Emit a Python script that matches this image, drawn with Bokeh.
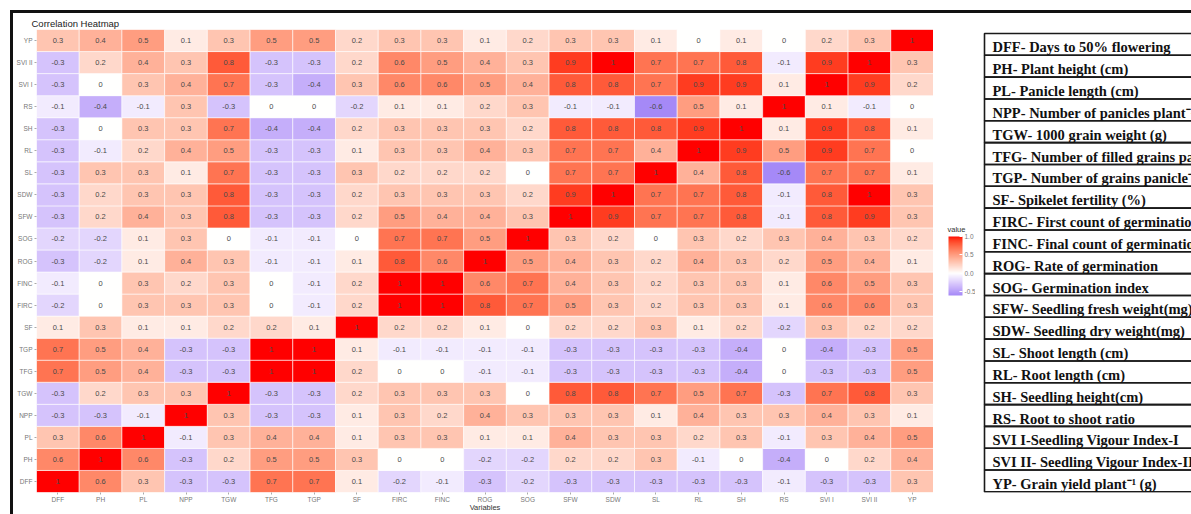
from bokeh.plotting import figure
from bokeh.models import (ColumnDataSource, LinearColorMapper, ColorBar, FixedTicker,
                          Range1d, FactorRange, PrintfTickFormatter)
from bokeh.layouts import row
from bokeh.core.properties import value
from bokeh.embed import file_html
from bokeh.resources import INLINE

# ---- data -------------------------------------------------------------
variables = ["DFF", "PH", "PL", "NPP", "TGW", "TFG", "TGP", "SF", "FIRC", "FINC",
             "ROG", "SOG", "SFW", "SDW", "SL", "RL", "SH", "RS", "SVI I", "SVI II", "YP"]

# correlation of each trait (row) with every trait in `variables` order
r_dff = [1, 0.6, 0.3, -0.3, -0.3, 0.7, 0.7, 0.1, -0.2, -0.1, -0.3, -0.2, -0.3, -0.3, -0.3, -0.3, -0.3, -0.1, -0.3, -0.3, 0.3]
r_ph = [0.6, 1, 0.6, -0.3, 0.2, 0.5, 0.5, 0.3, 0, 0, -0.2, -0.2, 0.2, 0.2, 0.3, -0.1, 0, -0.4, 0, 0.2, 0.4]
r_pl = [0.3, 0.6, 1, -0.1, 0.3, 0.4, 0.4, 0.1, 0.3, 0.3, 0.1, 0.1, 0.4, 0.3, 0.3, 0.2, 0.3, -0.1, 0.3, 0.4, 0.5]
r_npp = [-0.3, -0.3, -0.1, 1, 0.3, -0.3, -0.3, 0.1, 0.3, 0.2, 0.4, 0.3, 0.3, 0.3, 0.1, 0.4, 0.3, 0.3, 0.4, 0.3, 0.1]
r_tgw = [-0.3, 0.2, 0.3, 0.3, 1, -0.3, -0.3, 0.2, 0.3, 0.3, 0.3, 0, 0.8, 0.8, 0.7, 0.5, 0.7, -0.3, 0.7, 0.8, 0.3]
r_tfg = [0.7, 0.5, 0.4, -0.3, -0.3, 1, 1, 0.2, 0, 0, -0.1, -0.1, -0.3, -0.3, -0.3, -0.3, -0.4, 0, -0.3, -0.3, 0.5]
r_tgp = [0.7, 0.5, 0.4, -0.3, -0.3, 1, 1, 0.1, -0.1, -0.1, -0.1, -0.1, -0.3, -0.3, -0.3, -0.3, -0.4, 0, -0.4, -0.3, 0.5]
r_sf = [0.1, 0.3, 0.1, 0.1, 0.2, 0.2, 0.1, 1, 0.2, 0.2, 0.1, 0, 0.2, 0.2, 0.3, 0.1, 0.2, -0.2, 0.3, 0.2, 0.2]
r_firc = [-0.2, 0, 0.3, 0.3, 0.3, 0, -0.1, 0.2, 1, 1, 0.8, 0.7, 0.5, 0.3, 0.2, 0.3, 0.3, 0.1, 0.6, 0.6, 0.3]
r_finc = [-0.1, 0, 0.3, 0.2, 0.3, 0, -0.1, 0.2, 1, 1, 0.6, 0.7, 0.4, 0.3, 0.2, 0.3, 0.3, 0.1, 0.6, 0.5, 0.3]
r_rog = [-0.3, -0.2, 0.1, 0.4, 0.3, -0.1, -0.1, 0.1, 0.8, 0.6, 1, 0.5, 0.4, 0.3, 0.2, 0.4, 0.3, 0.2, 0.5, 0.4, 0.1]
r_sog = [-0.2, -0.2, 0.1, 0.3, 0, -0.1, -0.1, 0, 0.7, 0.7, 0.5, 1, 0.3, 0.2, 0, 0.3, 0.2, 0.3, 0.4, 0.3, 0.2]
r_sfw = [-0.3, 0.2, 0.4, 0.3, 0.8, -0.3, -0.3, 0.2, 0.5, 0.4, 0.4, 0.3, 1, 0.9, 0.7, 0.7, 0.8, -0.1, 0.8, 0.9, 0.3]
r_sdw = [-0.3, 0.2, 0.3, 0.3, 0.8, -0.3, -0.3, 0.2, 0.3, 0.3, 0.3, 0.2, 0.9, 1, 0.7, 0.7, 0.8, -0.1, 0.8, 1, 0.3]
r_sl = [-0.3, 0.3, 0.3, 0.1, 0.7, -0.3, -0.3, 0.3, 0.2, 0.2, 0.2, 0, 0.7, 0.7, 1, 0.4, 0.8, -0.6, 0.7, 0.7, 0.1]
r_rl = [-0.3, -0.1, 0.2, 0.4, 0.5, -0.3, -0.3, 0.1, 0.3, 0.3, 0.4, 0.3, 0.7, 0.7, 0.4, 1, 0.9, 0.5, 0.9, 0.7, 0]
r_sh = [-0.3, 0, 0.3, 0.3, 0.7, -0.4, -0.4, 0.2, 0.3, 0.3, 0.3, 0.2, 0.8, 0.8, 0.8, 0.9, 1, 0.1, 0.9, 0.8, 0.1]
r_rs = [-0.1, -0.4, -0.1, 0.3, -0.3, 0, 0, -0.2, 0.1, 0.1, 0.2, 0.3, -0.1, -0.1, -0.6, 0.5, 0.1, 1, 0.1, -0.1, 0]
r_svi1 = [-0.3, 0, 0.3, 0.4, 0.7, -0.3, -0.4, 0.3, 0.6, 0.6, 0.5, 0.4, 0.8, 0.8, 0.7, 0.9, 0.9, 0.1, 1, 0.9, 0.2]
r_svi2 = [-0.3, 0.2, 0.4, 0.3, 0.8, -0.3, -0.3, 0.2, 0.6, 0.5, 0.4, 0.3, 0.9, 1, 0.7, 0.7, 0.8, -0.1, 0.9, 1, 0.3]
r_yp = [0.3, 0.4, 0.5, 0.1, 0.3, 0.5, 0.5, 0.2, 0.3, 0.3, 0.1, 0.2, 0.3, 0.3, 0.1, 0, 0.1, 0, 0.2, 0.3, 1]

legend_ticks = [-0.5, 0.0, 0.5, 1.0]

descriptions = [
    "DFF- Days to 50% flowering",
    "PH- Plant height (cm)",
    "PL- Panicle length (cm)",
    "NPP- Number of panicles plant\u207b\u00b9",
    "TGW- 1000 grain weight (g)",
    "TFG- Number of filled  grains panicle\u207b\u00b9",
    "TGP- Number of grains panicle\u207b\u00b9",
    "SF- Spikelet fertility (%)",
    "FIRC- First count of germination",
    "FINC- Final count of germination",
    "ROG- Rate  of germination",
    "SOG- Germination index",
    "SFW- Seedling fresh weight(mg)",
    "SDW- Seedling dry weight(mg)",
    "SL- Shoot length (cm)",
    "RL- Root length (cm)",
    "SH- Seedling height(cm)",
    "RS- Root to shoot ratio",
    "SVI I-Seedling Vigour Index-I",
    "SVI II- Seedling Vigour Index-II",
    "YP- Grain yield plant\u207b\u00b9 (g)",
]

matrix_rows = [r_dff, r_ph, r_pl, r_npp, r_tgw, r_tfg, r_tgp, r_sf, r_firc, r_finc,
               r_rog, r_sog, r_sfw, r_sdw, r_sl, r_rl, r_sh, r_rs, r_svi1, r_svi2, r_yp]
assert len(matrix_rows) == len(variables)
assert all(len(r) == len(variables) for r in matrix_rows)


# ---- diverging palette (white midpoint, Lab interpolation) -------------
def _to_lin(c):
    c = c / 255.0
    return c / 12.92 if c <= 0.04045 else ((c + 0.055) / 1.055) ** 2.4


def _from_lin(c):
    c = 12.92 * c if c <= 0.0031308 else 1.055 * max(c, 0) ** (1 / 2.4) - 0.055
    return int(max(0, min(255, round(c * 255))))


def hex_to_lab(h):
    r, g, b = (_to_lin(int(h[i:i + 2], 16)) for i in (1, 3, 5))
    X = (0.4124 * r + 0.3576 * g + 0.1805 * b) / 0.95047
    Y = 0.2126 * r + 0.7152 * g + 0.0722 * b
    Z = (0.0193 * r + 0.1192 * g + 0.9505 * b) / 1.08883
    d = 6 / 29

    def f(t):
        return t ** (1 / 3) if t > d ** 3 else t / (3 * d * d) + 4 / 29

    fx, fy, fz = f(X), f(Y), f(Z)
    return (116 * fy - 16, 500 * (fx - fy), 200 * (fy - fz))


def lab_to_hex(lab):
    L, a, b = lab
    d = 6 / 29
    fy = (L + 16) / 116
    fx = fy + a / 500
    fz = fy - b / 200

    def finv(t):
        return t ** 3 if t > d else 3 * d * d * (t - 4 / 29)

    X, Y, Z = finv(fx) * 0.95047, finv(fy), finv(fz) * 1.08883
    r = 3.2406 * X - 1.5372 * Y - 0.4986 * Z
    g = -0.9689 * X + 1.8758 * Y + 0.0415 * Z
    bb = 0.0557 * X - 0.2040 * Y + 1.0570 * Z
    return "#%02x%02x%02x" % (_from_lin(r), _from_lin(g), _from_lin(bb))


LOW, HIGH = -0.6, 1.0
lab_low, lab_mid, lab_high = hex_to_lab("#a589f7"), hex_to_lab("#ffffff"), hex_to_lab("#ff0000")
N = 256
palette = []
for k in range(N):
    v = LOW + (HIGH - LOW) * k / (N - 1)
    if v < 0:
        t, end = v / LOW, lab_low
    else:
        t, end = v / HIGH, lab_high
    palette.append(lab_to_hex(tuple(m + (e - m) * t for m, e in zip(lab_mid, end))))

mapper = LinearColorMapper(palette=palette, low=LOW, high=HIGH)

# ---- heatmap ------------------------------------------------------------
xs, ys, vals, labels = [], [], [], []
for rname, rvals in zip(variables, matrix_rows):
    for cname, v in zip(variables, rvals):
        xs.append(cname)
        ys.append(rname)
        vals.append(v)
        labels.append(f"{v:g}")
src = ColumnDataSource(dict(x=xs, y=ys, value=vals, label=labels))

SANS = "Liberation Sans"
FRAME_TOP, FRAME_BOTTOM = 16, 22      # border sizes around the tile area
PAGE_H = 501
p = figure(width=920, height=PAGE_H,
           x_range=FactorRange(*variables), y_range=FactorRange(*variables),
           output_backend="svg", toolbar_location=None,
           min_border_left=23, min_border_right=0,
           min_border_top=FRAME_TOP, min_border_bottom=FRAME_BOTTOM,
           title="Correlation Heatmap")
p.rect(x="x", y="y", width=1, height=1, source=src,
       fill_color={"field": "value", "transform": mapper},
       line_color="white", line_width=0.8, line_alpha=0.7)
p.text(x="x", y="y", text="label", source=src, text_align="center", text_baseline="middle",
       text_font_size="7.5px", text_color="#4a4a4a", text_font=value(SANS))

p.title.text_font = SANS
p.title.text_font_size = "9.5px"
p.title.text_font_style = "normal"
p.title.text_color = "#222222"
p.title.offset = -5
p.title.standoff = 2

p.grid.grid_line_color = None
p.outline_line_color = None
for ax in (p.xaxis[0], p.yaxis[0]):
    ax.axis_line_color = None
    ax.major_tick_in = 0
    ax.major_tick_out = 2
    ax.major_tick_line_color = "#aaaaaa"
    ax.major_label_text_font = SANS
    ax.major_label_text_font_size = "6.5px"
    ax.major_label_text_color = "#777777"
    ax.major_label_standoff = 2
p.xaxis.major_label_standoff = 1
p.xaxis.axis_label = "Variables"
p.xaxis.axis_label_text_font = SANS
p.xaxis.axis_label_text_font_size = "7.5px"
p.xaxis.axis_label_text_font_style = "normal"
p.xaxis.axis_label_text_color = "#333333"
p.xaxis.axis_label_standoff = -3

# ---- colour legend --------------------------------------------------------
# y data = pixels above the bottom of the (shared) frame
FRAME_PX = PAGE_H - FRAME_TOP - FRAME_BOTTOM
lg = figure(width=42, height=PAGE_H, x_range=Range1d(0, 42), y_range=Range1d(0, FRAME_PX),
            output_backend="svg", toolbar_location=None,
            x_axis_location=None, y_axis_location=None,
            min_border_left=0, min_border_right=0,
            min_border_top=FRAME_TOP, min_border_bottom=FRAME_BOTTOM)
lg.grid.grid_line_color = None
lg.outline_line_color = None
cb = ColorBar(color_mapper=mapper, ticker=FixedTicker(ticks=legend_ticks),
              formatter=PrintfTickFormatter(format="%.1f"),
              width=14, height=59, location=(15, 197), orientation="vertical",
              major_label_text_font=SANS, major_label_text_font_size="6.5px",
              major_label_text_color="#777777", label_standoff=2,
              major_tick_line_color="white", major_tick_in=3, major_tick_out=0,
              bar_line_color=None, border_line_color=None, background_fill_color=None,
              padding=0, margin=0)
lg.add_layout(cb)
lg.text(x=[14], y=[259], text=["value"], text_font=value(SANS), text_font_size="7.5px",
        text_color="#333333", text_align="left", text_baseline="bottom")

# ---- abbreviation key ---------------------------------------------------
# the key shares the heatmap's vertical frame (page rows 29..492)
ROW_H = (492 - 33) / 21
t = figure(width=216, height=PAGE_H, x_range=Range1d(0, 216),
           y_range=Range1d(-20.5 - 0.6 / ROW_H, 0.5 + 4 / ROW_H),
           output_backend="svg", toolbar_location=None,
           x_axis_location=None, y_axis_location=None,
           min_border_left=0, min_border_right=0,
           min_border_top=FRAME_TOP, min_border_bottom=FRAME_BOTTOM)
t.grid.grid_line_color = None
t.outline_line_color = None
row_pos = [-i for i in range(len(descriptions))]
t.quad(left=9, right=600, top=[y + 0.5 for y in row_pos], bottom=[y - 0.5 for y in row_pos],
       fill_color=None, line_color="#1a1a1a", line_width=1.6)
# entries sit a little below the middle of their row, close to the lower rule
t.text(x=17, y=[y - 0.14 for y in row_pos], text=descriptions,
       text_font=value("Liberation Serif"), text_font_style="bold",
       text_font_size="14.5px", text_baseline="middle",
       text_color="#111111")

layout = row(p, lg, t, margin=(10, 0, 0, 10),
             styles={"border-top": "3px solid #111111", "border-left": "3px solid #111111"})

open("out.html", "w").write(file_html(layout, INLINE))
